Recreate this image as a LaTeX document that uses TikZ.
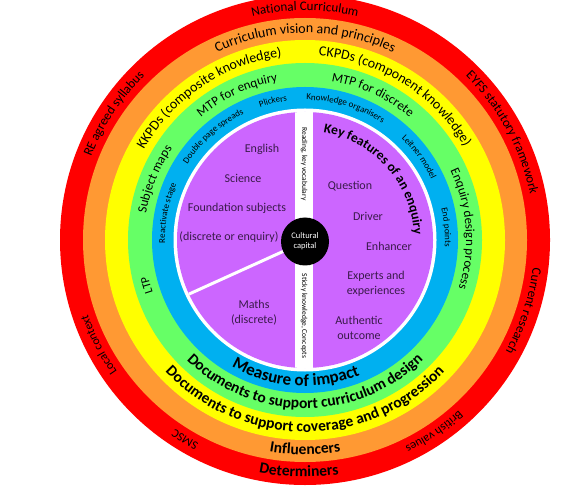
\documentclass[tikz,border=0pt]{standalone}
\usepackage{fontspec}
\setmainfont{Carlito}
\usetikzlibrary{decorations.text}

\definecolor{ringred}{HTML}{FF0000}
\definecolor{ringorange}{HTML}{FF9933}
\definecolor{ringyellow}{HTML}{FFFF00}
\definecolor{ringgreen}{HTML}{66FF66}
\definecolor{ringblue}{HTML}{00B0F0}
\definecolor{ringpurple}{HTML}{CC66FF}
\definecolor{inkpurple}{HTML}{3A1A4A}

% fonts for the curved labels
\newcommand{\fsmall}{\fontsize{9}{10}\selectfont}
\newcommand{\fmid}{\fontsize{12}{14}\selectfont}
\newcommand{\fring}{\fontsize{13}{15}\selectfont}
\newcommand{\flarge}{\fontsize{14}{16}\selectfont}
\newcommand{\fbold}{\fontsize{15.5}{17}\selectfont\bfseries}
\newcommand{\fimpact}{\fontsize{17}{19}\selectfont\bfseries}
\newcommand{\fkey}{\fontsize{13.5}{15}\selectfont\bfseries}

% radius, start angle, end angle, font, text
\newcommand{\ringtext}[5]{%
  \path[decorate,decoration={text along path,text align=center,text={|#4|#5}}]
    (centre) ++(#2:#1) arc[start angle=#2,end angle=#3,radius=#1];}

\begin{document}
\begin{tikzpicture}[x=1pt,y=1pt]
    \useasboundingbox (0,0) rectangle (561,490);
    \clip (0,0) rectangle (561,490);
    \coordinate (centre) at (305,250);

    % rings
    \foreach \r/\c in {245/ringred,222/ringorange,200/ringyellow,177/ringgreen,
                       153/ringblue,131.5/white,128/ringpurple}
        \fill[\c] (centre) circle[radius=\r];
    \begin{scope}
        \clip (centre) circle[radius=128];
        \fill[white] (295,100) rectangle (313,400);
    \end{scope}

    % determiners
    \ringtext{229.5}{140}{40}{\fring}{National Curriculum}
    \ringtext{229.5}{196.5}{96.5}{\fring}{RE agreed syllabus}
    \ringtext{229.5}{78.5}{-21.5}{\fring}{EYFS statutory framework}
    \ringtext{229.5}{32}{-68}{\fring}{Current research}
    \ringtext{229.5}{-6}{-106}{\fmid}{British values}
    \ringtext{229.5}{289}{189}{\fmid}{SMSC}
    \ringtext{229.5}{257}{157}{\fmid}{Local context}
    \ringtext{237}{218.5}{318.5}{\fbold}{Determiners}

    % influencers
    \ringtext{207}{150}{30}{\flarge}{Curriculum vision and principles}
    \ringtext{214.5}{220}{320}{\fbold}{Influencers}

    % coverage and progression
    \ringtext{184.5}{184}{64}{\flarge}{KKPDs (composite knowledge)}
    \ringtext{184.5}{108}{8}{\flarge}{CKPDs (component knowledge)}
    \ringtext{192}{200}{340}{\fbold}{Documents to support coverage and progression}

    % curriculum design
    \ringtext{161}{208}{108}{\fring}{Subject maps}
    \ringtext{161}{165}{65}{\fring}{MTP for enquiry}
    \ringtext{161}{115}{15}{\fring}{MTP for discrete}
    \ringtext{161}{54}{-46}{\fring}{Enquiry design process}
    \ringtext{161}{226}{166}{\fmid}{LTP}
    \ringtext{168.5}{200}{340}{\fbold}{Documents to support curriculum design}

    % measure of impact
    \ringtext{140}{219}{119}{\fsmall}{Reactivate stage}
    \ringtext{140}{181.5}{81.5}{\fsmall}{Double page spreads}
    \ringtext{140}{133}{73}{\fsmall}{Plickers}
    \ringtext{140}{123}{23}{\fsmall}{Knowledge organisers}
    \ringtext{140}{86}{-14}{\fsmall}{Leitner model}
    \ringtext{140}{55}{-45}{\fsmall}{End points}
    \ringtext{146}{206}{326}{\fimpact}{Measure of impact}

    % key features
    \ringtext{109}{111.5}{-28.5}{\fkey}{Key features of an enquiry}

    % centre
    \node[circle,fill=black,minimum size=48,inner sep=0,text=white,align=center,
          font=\fontsize{8.5}{10}\selectfont] (capital) at (305,248.5) {Cultural\\capital};
    \path (centre) ++(205:128) coordinate (split);
    \draw[white,line width=3] (capital) -- (split);

    \begin{scope}[every node/.style={rotate=-90,font=\fontsize{7.5}{8}\selectfont}]
        \node (reading) at (304,326) {Reading, key vocabulary};
        \node (sticky) at (304,174) {Sticky knowledge, Concepts};
    \end{scope}

    \begin{scope}[every node/.style={text=inkpurple,align=center,font=\fontsize{12}{15}\selectfont}]
        \node (english) at (262,341) {English};
        \node (science) at (243,312) {Science};
        \node (foundation) at (237,282) {Foundation subjects};
        \node (discrete) at (229,253) {(discrete or enquiry)};
        \node (maths) at (254,177) {Maths\\(discrete)};
        \node (question) at (350,304) {Question};
        \node (driver) at (368,274) {Driver};
        \node (enhancer) at (389,244) {Enhancer};
        \node (experts) at (376,206.5) {Experts and\\experiences};
        \node (authentic) at (359,162) {Authentic\\outcome};
    \end{scope}
\end{tikzpicture}
\end{document}
